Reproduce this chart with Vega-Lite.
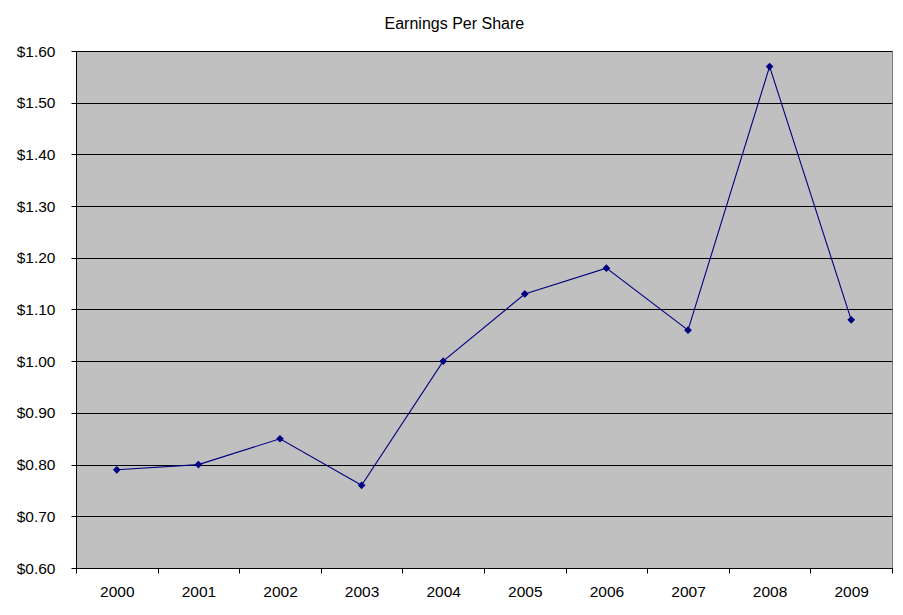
{
  "$schema": "https://vega.github.io/schema/vega-lite/v6.json",
  "autosize": "none",
  "width": 816,
  "height": 517,
  "padding": {"left": 76, "top": 51, "right": 11, "bottom": 47},
  "background": "white",
  "title": {
    "text": "Earnings Per Share",
    "font": "Liberation Sans",
    "fontSize": 16,
    "fontWeight": "normal",
    "color": "#000000",
    "anchor": "middle",
    "frame": "bounds",
    "offset": 12
  },
  "config": {
    "view": {"fill": "#C0C0C0", "stroke": "#808080", "strokeWidth": 1},
    "axis": {
      "labelFont": "Liberation Sans",
      "labelFontSize": 15.5,
      "labelColor": "#000000",
      "domainColor": "#000000",
      "tickColor": "#000000",
      "title": null
    }
  },
  "data": {
    "values": [
      {"year": "2000", "eps": 0.79},
      {"year": "2001", "eps": 0.80},
      {"year": "2002", "eps": 0.85},
      {"year": "2003", "eps": 0.76},
      {"year": "2004", "eps": 1.00},
      {"year": "2005", "eps": 1.13},
      {"year": "2006", "eps": 1.18},
      {"year": "2007", "eps": 1.06},
      {"year": "2008", "eps": 1.57},
      {"year": "2009", "eps": 1.08}
    ]
  },
  "encoding": {
    "x": {
      "field": "year",
      "type": "ordinal",
      "scale": {"type": "band", "paddingInner": 0, "paddingOuter": 0},
      "axis": {
        "title": null,
        "labelAngle": 0,
        "tickBand": "extent",
        "tickSize": 5,
        "labelPadding": 11,
        "grid": false,
        "domainColor": "#000000"
      }
    },
    "y": {
      "field": "eps",
      "type": "quantitative",
      "scale": {"domain": [0.6, 1.6], "nice": false, "zero": false},
      "axis": {
        "title": null,
        "format": "$.2f",
        "values": [0.6, 0.7, 0.8, 0.9, 1.0, 1.1, 1.2, 1.3, 1.4, 1.5, 1.6],
        "grid": true,
        "gridColor": "#000000",
        "gridOpacity": 1,
        "gridWidth": 1,
        "tickSize": 5,
        "labelPadding": 16
      }
    }
  },
  "layer": [
    {
      "mark": {"type": "line", "color": "#000080", "strokeWidth": 1.1}
    },
    {
      "mark": {"type": "point", "shape": "diamond", "filled": true, "size": 60, "color": "#000080", "opacity": 1}
    }
  ]
}
